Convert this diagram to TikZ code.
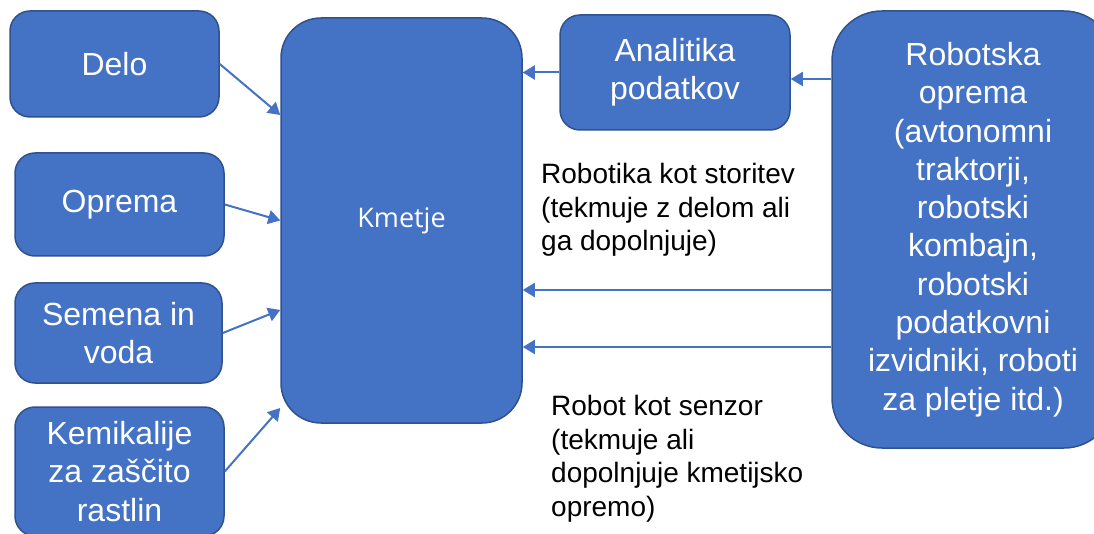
\documentclass[tikz,border=0pt]{standalone}
\usepackage{fontspec}
\setmainfont{Liberation Sans}
\newfontfamily\kmetfont{Open Sans}
\usetikzlibrary{arrows.meta}
\definecolor{boxfill}{HTML}{4472C4}
\definecolor{boxline}{HTML}{2F528F}

\begin{document}
\begin{tikzpicture}[x=1pt,y=-1pt,
  box/.style={draw=boxline, line width=1.5pt, fill=boxfill, text=white,
    rounded corners=20pt, align=center, inner sep=0pt,
    font=\fontsize{32}{38.3}\selectfont},
  arr/.style={draw=boxfill, line width=2pt,
    -{Triangle[length=12pt,width=14pt]}},
  note/.style={align=left, inner sep=0pt, anchor=west, text=black,
    font=\fontsize{28}{33.5}\selectfont}]

\useasboundingbox (0,0) rectangle (1094,534);
\clip (0,0) rectangle (1094,534);

% input boxes on the left
\node[box, minimum width=209pt, minimum height=106pt] (delo) at (114.5,64) {Delo};
\node[box, minimum width=209pt, minimum height=103pt] (oprema) at (119.5,204.5) {Oprema};
\node[box, minimum width=207pt, minimum height=100pt] (semena) at (118.5,333) {Semena in\\voda};
\node[box, minimum width=209pt, minimum height=129pt] (kemik) at (119.5,471.5) {Kemikalije\\za zaščito\\rastlin};

% farmers
\node[box, rounded corners=40pt, minimum width=241pt, minimum height=405pt,
  font=\kmetfont\fontsize{27}{32}\selectfont] (kmetje) at (401.5,220.5) {Kmetje};

% data analytics
\node[box, minimum width=230pt, minimum height=115pt] (analitika) at (675,72.5) {Analitika\\podatkov};

% robotic equipment
\node[box, rounded corners=50pt, minimum width=282pt, minimum height=437pt] (robot) at (973,229.5)
  {Robotska\\oprema\\(avtonomni\\traktorji,\\robotski\\kombajn,\\robotski\\podatkovni\\izvidniki, roboti\\za pletje itd.)};

% connectors
\draw[arr] (delo.east) -- ([yshift=105.5pt]kmetje.west);
\draw[arr] (oprema.east) -- (kmetje.west);
\draw[arr] (semena.east) -- ([yshift=-89.5pt]kmetje.west);
\draw[arr] (kemik.east) -- ([yshift=-187.5pt]kmetje.west);
\draw[arr] (analitika.west) -- (kmetje.east |- analitika.west);
\draw[arr] ([yshift=-6.5pt]analitika.east -| robot.west) -- ([yshift=-6.5pt]analitika.east);
\draw[arr] ([yshift=-69.5pt]kmetje.east -| robot.west) -- ([yshift=-69.5pt]kmetje.east);
\draw[arr] ([yshift=-126.5pt]kmetje.east -| robot.west) -- ([yshift=-126.5pt]kmetje.east);

% notes
\node[note] (service) at (541,210) {Robotika kot storitev\\(tekmuje z delom ali\\ga dopolnjuje)};
\node[note] (sensor) at (551,459) {Robot kot senzor\\(tekmuje ali\\dopolnjuje kmetijsko\\opremo)};
\end{tikzpicture}
\end{document}
